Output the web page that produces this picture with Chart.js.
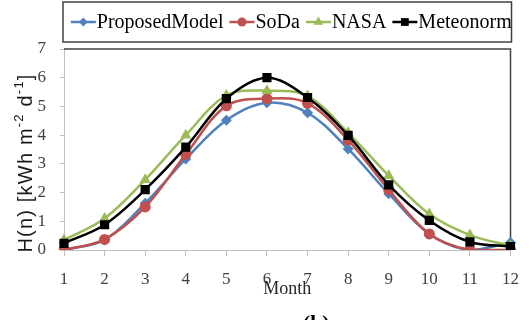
<!DOCTYPE html>
<html>
<head>
<meta charset="utf-8">
<title>Monthly H(n)</title>
<script src="https://cdn.jsdelivr.net/npm/chart.js@4.4.1/dist/chart.umd.min.js"></script>
<style>
    html, body { margin: 0; padding: 0; background: #fff; }
    #wrap { width: 532px; height: 320px; }
</style>
</head>
<body>
<div id="wrap"><canvas id="radiationChart" width="532" height="320"></canvas></div>
<script>
// Monthly values, kWh m-2 d-1
const months = ['1', '2', '3', '4', '5', '6', '7', '8', '9', '10', '11', '12'];
const proposedModel = [0.0, 0.35, 1.63, 3.17, 4.52, 5.13, 4.78, 3.52, 1.96, 0.56, 0.0, 0.26];
const soda = [0.0, 0.37, 1.5, 3.33, 5.02, 5.27, 5.11, 3.83, 2.1, 0.56, 0.0, 0.0];
const nasa = [0.35, 1.1, 2.45, 4.0, 5.38, 5.55, 5.36, 4.08, 2.59, 1.25, 0.52, 0.15];
const meteonorm = [0.23, 0.88, 2.1, 3.58, 5.27, 6.0, 5.31, 3.99, 2.27, 1.03, 0.28, 0.12];
const yTicks = [0, 1, 2, 3, 4, 5, 6, 7];

const serif = '"Liberation Serif", "Times New Roman", serif';
const sans = '"Liberation Sans", Arial, sans-serif';

function series(label, data, color, pointStyle, radius, order) {
    return {
        label: label,
        data: data,
        borderColor: color,
        backgroundColor: color,
        pointBackgroundColor: color,
        pointBorderColor: color,
        pointBorderWidth: 0,
        pointStyle: pointStyle,
        pointRadius: radius,
        borderWidth: 2.5,
        tension: 0.35,
        order: order
    };
}

// Legend drawn as a boxed row: short line + marker + name
const boxedLegend = {
    id: 'boxedLegend',
    afterDraw(chart) {
        const c = chart.ctx;
        const area = chart.chartArea;
        const cy = 22;
        const lineLen = 25, textGap = 1, itemGap = 6;
        c.save();
        c.font = '20px ' + serif;
        const items = chart.data.datasets.map(ds => ({ ds: ds, w: c.measureText(ds.label).width }));
        const total = items.reduce((s, it) => s + lineLen + textGap + it.w, 0) + itemGap * (items.length - 1);
        const boxLeft = area.left - 1, boxRight = area.right + 1;
        let x = (boxLeft + boxRight) / 2 - total / 2 + 4;

        c.strokeStyle = '#404040';
        c.lineWidth = 1.5;
        c.strokeRect(boxLeft, 2, boxRight - boxLeft, 40);

        items.forEach(it => {
            const ds = it.ds;
            c.strokeStyle = ds.borderColor;
            c.lineWidth = 2.5;
            c.beginPath();
            c.moveTo(x, cy);
            c.lineTo(x + lineLen, cy);
            c.stroke();
            c.fillStyle = ds.borderColor;
            Chart.helpers.drawPoint(c, { pointStyle: ds.pointStyle, radius: ds.pointRadius - 1, rotation: 0, borderWidth: 0 }, x + lineLen / 2, cy);
            c.fillStyle = '#000';
            c.textBaseline = 'middle';
            c.textAlign = 'left';
            c.fillText(ds.label, x + lineLen + textGap, cy + 1);
            x += lineLen + textGap + it.w + itemGap;
        });
        c.restore();
    }
};

// Top and right frame of the plot area
const plotFrame = {
    id: 'plotFrame',
    beforeDatasetsDraw(chart) {
        const c = chart.ctx;
        const a = chart.chartArea;
        c.save();
        c.strokeStyle = '#404040';
        c.lineWidth = 1.5;
        c.beginPath();
        c.moveTo(a.left, a.top);
        c.lineTo(a.right, a.top);
        c.lineTo(a.right, a.bottom);
        c.stroke();
        c.restore();
    }
};

// Vertical axis title with superscripts, plus the panel letter
const extraText = {
    id: 'extraText',
    afterDraw(chart) {
        const c = chart.ctx;
        const a = chart.chartArea;
        const parts = [
            { t: 'H(n) [kWh m', sup: false },
            { t: '-2', sup: true },
            { t: ' d', sup: false },
            { t: '-1', sup: true },
            { t: ']', sup: false }
        ];
        const big = '20px ' + sans, small = '13px ' + sans;
        c.save();
        c.fillStyle = '#1a1a1a';
        c.textBaseline = 'middle';
        c.textAlign = 'left';
        c.letterSpacing = '1.2px';
        let total = 0;
        parts.forEach(p => { c.font = p.sup ? small : big; p.w = c.measureText(p.t).width; total += p.w; });
        c.translate(26, 163);
        c.rotate(-Math.PI / 2);
        let x = -total / 2;
        parts.forEach(p => {
            c.font = p.sup ? small : big;
            c.fillText(p.t, x, p.sup ? -7 : 0);
            x += p.w;
        });
        c.restore();

        c.save();
        c.font = 'bold 22px ' + serif;
        c.fillStyle = '#000';
        c.textAlign = 'center';
        c.textBaseline = 'alphabetic';
        c.fillText('(b)', (a.left + a.right) / 2 + 29, 330);
        c.restore();
    }
};

const ctx = document.getElementById('radiationChart').getContext('2d');
const radiationChart = new Chart(ctx, {
    type: 'line',
    data: {
        labels: months,
        datasets: [
            series('ProposedModel', proposedModel, '#4f81bd', 'rectRot', 5.5, 4),
            series('SoDa', soda, '#c0504d', 'circle', 5.5, 3),
            series('NASA', nasa, '#9bbb59', 'triangle', 6.5, 2),
            series('Meteonorm', meteonorm, '#000000', 'rect', 6.5, 1)
        ]
    },
    options: {
        responsive: false,
        animation: false,
        layout: { padding: { top: 49, right: 13, bottom: 20, left: 0 } },
        plugins: {
            legend: { display: false },
            tooltip: { enabled: false }
        },
        scales: {
            x: {
                offset: false,
                grid: { drawOnChartArea: false, tickLength: 6, color: '#bfbfbf' },
                border: { color: '#bfbfbf', width: 1 },
                ticks: { font: { family: serif, size: 17 }, color: '#404040', padding: 13, maxRotation: 0, autoSkip: false },
                title: { display: true, text: 'Month', font: { family: serif, size: 18 }, color: '#262626', padding: 0 },
                afterFit(scale) { scale.height = 50; }
            },
            y: {
                min: yTicks[0],
                max: yTicks[yTicks.length - 1],
                grid: { drawOnChartArea: false, tickLength: 4, color: '#bfbfbf' },
                border: { color: '#bfbfbf', width: 1 },
                ticks: { stepSize: 1, font: { family: serif, size: 17 }, color: '#404040', padding: 14 },
                afterFit(scale) { scale.width = 64; }
            }
        }
    },
    plugins: [plotFrame, boxedLegend, extraText]
});
</script>
</body>
</html>
